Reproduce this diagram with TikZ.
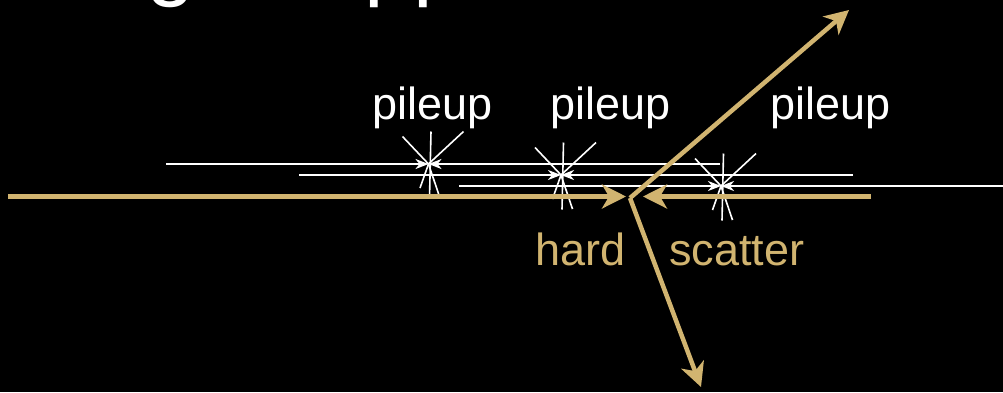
\documentclass[tikz,border=0pt]{standalone}
\usepackage{fontspec}
\setmainfont{Liberation Sans}
\usetikzlibrary{arrows.meta}
\definecolor{gold}{RGB}{209,180,112}
\tikzset{
  track/.style={white,line width=2bp},
  trackarrow/.style={track,-{Stealth[length=13bp,width=10bp,inset=4bp]}},
  ray/.style={white,line width=1.6bp},
  beam/.style={gold,line width=5bp,-{Stealth[length=24bp,width=24bp,inset=7bp]}},
  outgoing/.style={gold,line width=4.5bp,-{Stealth[length=24bp,width=24bp,inset=7bp]}},
  lbl/.style={inner sep=0pt,font=\fontsize{45bp}{54bp}\selectfont},
  title/.style={inner sep=0pt,white,font=\fontsize{88bp}{100bp}\selectfont},
  burst/.pic={
    \draw[ray] (0,0) -- (-26,-27.5);
    \draw[ray] (0,0) -- (35,-32.5);
    \draw[ray] (2.5,-32.5) -- (1,34.5);
    \draw[ray] (0,0) -- (-8.5,24);
    \draw[ray] (0,0) -- (11.5,34);
  }
}
\begin{document}
\begin{tikzpicture}[x=1bp,y=-1bp]
  \fill[black] (0,0) rectangle (1003,392);
  \useasboundingbox (0,0) rectangle (1003,392);

  % heading, only its lower edge falls inside the frame
  \node[title,anchor=base west] (headg) at (146,-11) {g};
  \node[title,anchor=base west] (headpp) at (364,-11) {pp};

  % pileup vertices and track ends
  \coordinate (v1) at (428.5,164);
  \coordinate (v2) at (561,175);
  \coordinate (v3) at (721,186);
  \coordinate (p1l) at (166,164);
  \coordinate (p1r) at (720,164);
  \coordinate (p2l) at (299,175);
  \coordinate (p2r) at (853,175);
  \coordinate (p3l) at (459,186);
  \coordinate (p3r) at (1010,186);

  % incoming pileup tracks
  \draw[trackarrow] (p1l) -- (v1);
  \draw[trackarrow] (p1r) -- (v1);
  \draw[trackarrow] (p2l) -- (v2);
  \draw[trackarrow] (p2r) -- (v2);
  \draw[trackarrow] (p3l) -- (v3);
  \draw[trackarrow] (p3r) -- (v3);

  % collision sprays
  \pic at (v1) {burst};
  \pic at (v2) {burst};
  \pic at (v3) {burst};

  % hard-scatter beams and outgoing particles
  \coordinate (bl) at (8,196.5);
  \coordinate (br) at (871,196.5);
  \coordinate (hl) at (626,196.5);
  \coordinate (hr) at (643,196.5);
  \coordinate (hs) at (630,198);
  \coordinate (up) at (849,10);
  \coordinate (down) at (701,387);
  \draw[beam] (bl) -- (hl);
  \draw[beam] (br) -- (hr);
  \draw[outgoing] (hs) -- (up);
  \draw[outgoing] (hs) -- (down);

  % labels
  \node[lbl,white,anchor=base] (lab1) at (433,119) {pileup};
  \node[lbl,white,anchor=base] (lab2) at (611,119) {pileup};
  \node[lbl,white,anchor=base] (lab3) at (831,119) {pileup};
  \node[lbl,gold,anchor=base west] (hard) at (535,265) {hard};
  \node[lbl,gold,anchor=base west] (scatter) at (669,265) {scatter};
\end{tikzpicture}
\end{document}
